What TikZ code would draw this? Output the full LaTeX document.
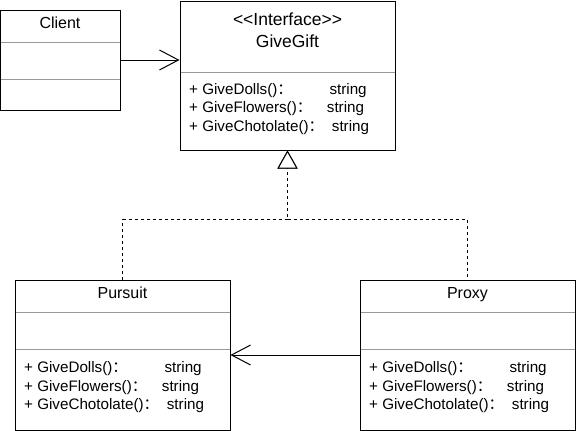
\documentclass[tikz,border=0pt]{standalone}
\usepackage{fontspec}
\setmainfont{Liberation Sans}[Ligatures=TeXOff]
\newfontfamily\cjk{Noto Sans CJK SC}
\usetikzlibrary{arrows.meta}
\newcommand\methline[2]{\makebox[#1][l]{+ #2\cjk{：}}string}
\begin{document}
\begin{tikzpicture}[x=1pt,y=-1pt,
  box/.style={draw=black, line width=1pt, fill=white, inner sep=0pt, rectangle},
  divider/.style={draw=black!40, line width=1pt},
  title/.style={inner sep=0pt, anchor=base, font=\fontsize{16}{19}\selectfont},
  bigtitle/.style={inner sep=0pt, anchor=base, font=\fontsize{17.5}{21}\selectfont},
  method/.style={inner sep=0pt, anchor=base west, font=\fontsize{15.2}{18}\selectfont},
  assoc/.style={line width=1pt, -{Straight Barb[length=19pt,width=20pt]}},
  realize/.style={line width=1pt, dash pattern=on 3pt off 3pt, -{Triangle[open,length=18pt,width=20pt,fill=white]}},
]
\useasboundingbox (0,0) rectangle (576,431);

% class boxes
\node[box, minimum width=120pt, minimum height=100pt] (client) at (60,60) {};
\node[box, minimum width=215pt, minimum height=149pt] (gift) at (287.5,75.5) {};
\node[box, minimum width=215pt, minimum height=150pt] (pursuit) at (122.5,355) {};
\node[box, minimum width=215pt, minimum height=150pt] (proxy) at (467.5,355) {};

% dividers
\draw[divider] (0.5,42) -- (119.5,42);
\draw[divider] (0.5,79) -- (119.5,79);
\draw[divider] (180.5,72) -- (394.5,72);
\draw[divider] (15.5,312) -- (229.5,312);
\draw[divider] (15.5,349) -- (229.5,349);
\draw[divider] (360.5,312) -- (574.5,312);
\draw[divider] (360.5,349) -- (574.5,349);

% titles
\node[title] (clientname) at (60,28.3) {Client};
\node[bigtitle] (giftstereo) at (287.5,25.5) {<<Interface>>};
\node[bigtitle] (giftname) at (287.5,47) {GiveGift};
\node[title] (pursuitname) at (122.5,298.3) {Pursuit};
\node[title] (proxyname) at (467.5,298.3) {Proxy};

% methods
\node[method] (g1) at (189,94) {\methline{140.3pt}{GiveDolls()}};
\node[method] (g2) at (189,112.5) {\methline{137.7pt}{GiveFlowers()}};
\node[method] (g3) at (189,131) {\methline{142.7pt}{GiveChotolate()}};
\node[method] (p1) at (24,372.7) {\methline{140.3pt}{GiveDolls()}};
\node[method] (p2) at (24,391) {\methline{137.7pt}{GiveFlowers()}};
\node[method] (p3) at (24,409.3) {\methline{142.7pt}{GiveChotolate()}};
\node[method] (x1) at (369,372.7) {\methline{140.3pt}{GiveDolls()}};
\node[method] (x2) at (369,391) {\methline{137.7pt}{GiveFlowers()}};
\node[method] (x3) at (369,409.3) {\methline{142.7pt}{GiveChotolate()}};

% connectors
\draw[assoc] (client.east) -- (gift.west |- client.east);
\draw[assoc] (proxy.west) -- (pursuit.east |- proxy.west);
\draw[realize] (pursuit.north) -- ++(0,-60) -| (gift.south);
\draw[realize, dash phase=3pt] (proxy.north) -- ++(0,-60) -| (gift.south);
\end{tikzpicture}
\end{document}
